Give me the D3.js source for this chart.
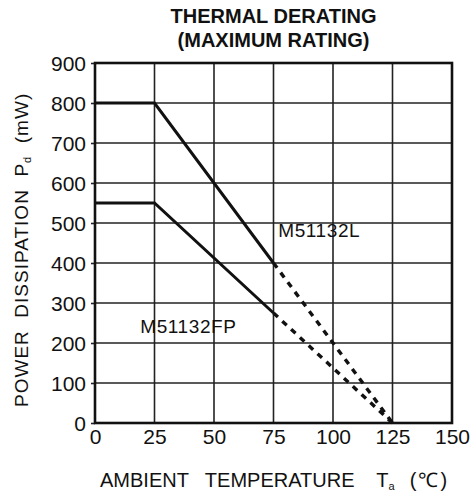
<!DOCTYPE html>
<html>
<head>
<meta charset="utf-8">
<script src="https://cdn.jsdelivr.net/npm/d3@7"></script>
<style>
  body { margin: 0; background: #fff; }
  text { font-family: "Liberation Sans", Arial, sans-serif; fill: #111; }
</style>
</head>
<body>
<svg id="chart" width="474" height="495"></svg>
<script>
const WIDTH = 474;
const HEIGHT = 495;

// data
const tempTicks = [0, 25, 50, 75, 100, 125, 150];
const powerTicks = [0, 100, 200, 300, 400, 500, 600, 700, 800, 900];

const lSolidTemp = [0, 25, 75];
const lSolidPower = [800, 800, 400];
const lDashTemp = [75, 125];
const lDashPower = [400, 0];

const fpSolidTemp = [0, 25, 75];
const fpSolidPower = [550, 550, 275];
const fpDashTemp = [75, 125];
const fpDashPower = [275, 0];

const titleLines = ['THERMAL DERATING', '(MAXIMUM RATING)'];

const svg = d3.select('#chart');

const x = d3.scaleLinear().domain([0, 150]).range([95, 452]);
const y = d3.scaleLinear().domain([0, 900]).range([423, 63]);

// grid
svg.append('g')
  .selectAll('line')
  .data(tempTicks.slice(1, -1))
  .enter()
  .append('line')
  .attr('x1', d => x(d)).attr('x2', d => x(d))
  .attr('y1', y(0)).attr('y2', y(900))
  .attr('stroke', '#222')
  .attr('stroke-width', 1.6);

svg.append('g')
  .selectAll('line')
  .data(powerTicks.slice(1, -1))
  .enter()
  .append('line')
  .attr('x1', x(0)).attr('x2', x(150))
  .attr('y1', d => y(d)).attr('y2', d => y(d))
  .attr('stroke', '#222')
  .attr('stroke-width', 1.6);

// axes (labels + short outer ticks)
const yAxis = svg.append('g')
  .attr('transform', 'translate(' + x(0) + ',0)')
  .call(d3.axisLeft(y).tickValues(powerTicks).tickSize(4).tickPadding(5));
yAxis.select('.domain').remove();
yAxis.selectAll('line').attr('stroke', '#222').attr('stroke-width', 1.6);
yAxis.selectAll('text')
  .attr('font-size', '21px')
  .attr('font-family', '"Liberation Sans", Arial, sans-serif')
  .attr('fill', '#111')
  .attr('dy', '0.36em');

const xAxis = svg.append('g')
  .attr('transform', 'translate(0,' + y(0) + ')')
  .call(d3.axisBottom(x).tickValues(tempTicks).tickSize(0).tickPadding(6));
xAxis.select('.domain').remove();
xAxis.selectAll('text')
  .attr('font-size', '21px')
  .attr('font-family', '"Liberation Sans", Arial, sans-serif')
  .attr('fill', '#111');

// frame
svg.append('rect')
  .attr('x', x(0)).attr('y', y(900))
  .attr('width', x(150) - x(0))
  .attr('height', y(0) - y(900))
  .attr('fill', 'none')
  .attr('stroke', '#111')
  .attr('stroke-width', 2.6);

// curves
const line = d3.line().x(d => x(d[0])).y(d => y(d[1]));

function drawCurve(temps, powers, dashed) {
  svg.append('path')
    .attr('d', line(d3.zip(temps, powers)))
    .attr('fill', 'none')
    .attr('stroke', '#111')
    .attr('stroke-width', dashed ? 3.4 : 3)
    .attr('stroke-dasharray', dashed ? '6,6' : null);
}

drawCurve(lSolidTemp, lSolidPower, false);
drawCurve(lDashTemp, lDashPower, true);
drawCurve(fpSolidTemp, fpSolidPower, false);
drawCurve(fpDashTemp, fpDashPower, true);

// curve labels
svg.append('text')
  .attr('x', x(77)).attr('y', y(465))
  .attr('font-size', '19px')
  .attr('letter-spacing', '0.6px')
  .text('M51132L');

svg.append('text')
  .attr('x', x(19)).attr('y', y(225))
  .attr('font-size', '19px')
  .attr('letter-spacing', '0.6px')
  .text('M51132FP');

// title
svg.append('g')
  .selectAll('text')
  .data(titleLines)
  .enter()
  .append('text')
  .attr('x', (x(0) + x(150)) / 2)
  .attr('y', (d, i) => 23 + i * 24)
  .attr('text-anchor', 'middle')
  .attr('font-size', '20px')
  .attr('font-weight', 'bold')
  .text(d => d);

// x axis title
const xt = svg.append('text')
  .attr('x', 100).attr('y', 487)
  .attr('font-size', '20px')
  .style('white-space', 'pre');
xt.append('tspan').text('AMBIENT   TEMPERATURE    T');
xt.append('tspan').attr('font-size', '11px').attr('dy', '3').text('a');
xt.append('tspan').attr('dy', '-3').attr('letter-spacing', '2px').text('  (℃)');

// y axis title
const yt = svg.append('text')
  .attr('transform', 'translate(28,' + 407 + ') rotate(-90)')
  .attr('font-size', '19px')
  .attr('letter-spacing', '1px')
  .style('white-space', 'pre');
yt.append('tspan').text('POWER  DISSIPATION  P');
yt.append('tspan').attr('font-size', '11px').attr('dy', '3').text('d');
yt.append('tspan').attr('dy', '-3').text('  (mW)');
</script>
</body>
</html>
